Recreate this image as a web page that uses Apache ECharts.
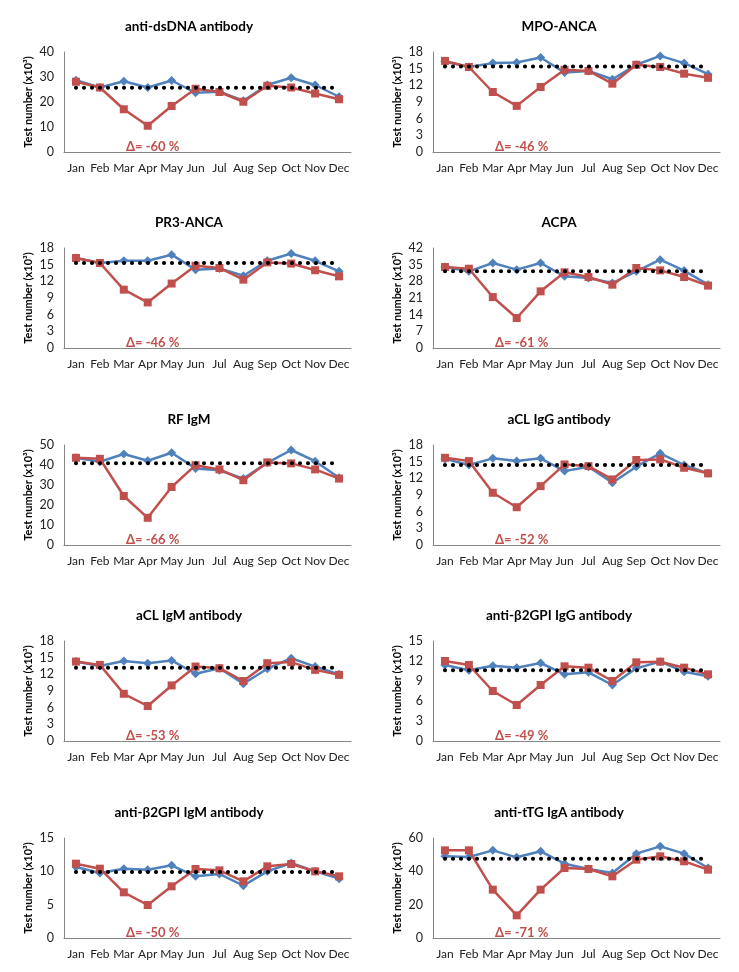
<!DOCTYPE html>
<html>
<head>
<meta charset="utf-8">
<script src="https://cdn.jsdelivr.net/npm/echarts@6/dist/echarts.min.js"></script>
<style>
html,body{margin:0;padding:0;background:#fff;}
#main{width:739px;height:972px;}
</style>
</head>
<body>
<div id="main"></div>
<script>
const months = ['Jan','Feb','Mar','Apr','May','Jun','Jul','Aug','Sep','Oct','Nov','Dec'];

const panelTitles = ['anti-dsDNA antibody','MPO-ANCA','PR3-ANCA','ACPA','RF IgM','aCL IgG antibody','aCL IgM antibody','anti-β2GPI IgG antibody','anti-β2GPI IgM antibody','anti-tTG IgA antibody'];
const deltas = ['-60 %','-46 %','-46 %','-61 %','-66 %','-52 %','-53 %','-49 %','-50 %','-71 %'];
const yMax = [40,18,18,42,50,18,18,15,15,60];
const yStep = [10,3,3,7,10,3,3,3,5,20];
const meanLevel = [25.7,15.4,15.3,32.2,40.9,14.4,13.2,10.6,9.9,47.6];

// blue series (reference year)
const dsdnaBlue = [28.7,25.8,28.3,25.8,28.6,23.7,24.1,20.5,26.8,29.7,26.8,22.1];
const mpoBlue   = [16.3,15.3,16.0,16.1,17.0,14.3,14.6,13.1,15.7,17.3,16.0,14.0];
const pr3Blue   = [16.2,15.3,15.7,15.7,16.8,14.1,14.3,13.0,15.7,17.0,15.7,13.8];
const acpaBlue  = [34.0,32.2,35.7,32.9,35.7,30.1,29.4,27.3,32.2,37.1,32.5,26.6];
const rfBlue    = [43.6,41.6,45.5,42.1,46.1,38.3,37.4,33.2,41.1,47.5,41.9,33.6];
const aclgBlue  = [15.5,14.4,15.6,15.1,15.6,13.3,14.1,11.2,14.1,16.5,14.4,12.9];
const aclmBlue  = [14.3,13.5,14.4,14.0,14.5,12.1,13.1,10.3,13.0,14.9,13.4,12.0];
const b2gBlue   = [11.4,10.6,11.3,11.0,11.7,10.0,10.3,8.4,10.9,11.9,10.4,9.7];
const b2mBlue   = [10.65,9.75,10.4,10.25,10.9,9.25,9.6,7.85,10.0,11.25,10.0,8.9];
const ttgBlue   = [49.0,48.6,52.6,48.4,52.0,44.6,41.4,39.0,50.6,55.0,50.6,42.0];

// red series (pandemic year)
const dsdnaRed = [28.1,25.8,17.1,10.5,18.4,25.3,24.0,20.1,26.5,25.8,23.4,21.1];
const mpoRed   = [16.4,15.3,10.8,8.3,11.7,14.8,14.6,12.3,15.7,15.3,14.1,13.35];
const pr3Red   = [16.2,15.3,10.5,8.2,11.6,14.8,14.4,12.3,15.4,15.2,14.0,12.9];
const acpaRed  = [34.0,33.3,21.4,12.6,23.8,31.8,29.8,26.6,33.6,32.6,29.8,26.2];
const rfRed    = [43.6,43.1,24.5,13.6,29.0,39.9,37.8,32.4,41.3,40.8,37.8,33.2];
const aclgRed  = [15.7,15.1,9.4,6.8,10.6,14.5,14.2,11.8,15.3,15.4,13.9,12.9];
const aclmRed  = [14.3,13.7,8.5,6.3,10.0,13.4,13.1,10.8,14.0,14.2,12.8,11.9];
const b2gRed   = [12.0,11.4,7.5,5.4,8.4,11.2,11.0,9.0,11.8,11.9,11.0,10.0];
const b2mRed   = [11.15,10.4,6.85,4.95,7.75,10.35,10.15,8.5,10.75,11.1,10.0,9.25];
const ttgRed   = [52.6,52.6,29.0,13.6,29.0,42.0,41.4,37.0,47.0,49.0,46.0,41.0];

const blueSets = [dsdnaBlue,mpoBlue,pr3Blue,acpaBlue,rfBlue,aclgBlue,aclmBlue,b2gBlue,b2mBlue,ttgBlue];
const redSets  = [dsdnaRed,mpoRed,pr3Red,acpaRed,rfRed,aclgRed,aclmRed,b2gRed,b2mRed,ttgRed];

const BLUE = '#4F81BD', RED = '#C0504D';
const FONT = 'Lato';
const rowTops = [52,248,445,641,838];
const colLefts = [64,433];
const plotW = 287, plotH = 100;

const grids = [], xAxes = [], yAxes = [], series = [], titles = [];
for (let i = 0; i < 10; i++) {
  const r = Math.floor(i/2), c = i % 2;
  grids.push({left: colLefts[c], top: rowTops[r], width: plotW, height: plotH, containLabel: false});
  titles.push({
    text: panelTitles[i], left: 184 + c*370, top: rowTops[r] - 37, textAlign: 'center',
    textStyle: {fontFamily: FONT, fontSize: 13.5, fontWeight: 'bold', color: '#000'}
  });
  titles.push({
    text: 'Δ= ' + deltas[i], left: colLefts[c] + plotW * 3.5 / 12, top: rowTops[r] + plotH - 17, textAlign: 'center',
    textStyle: {fontFamily: FONT, fontSize: 13, fontWeight: 'bold', color: RED}
  });
  xAxes.push({
    type: 'category', gridIndex: i, data: months, boundaryGap: true,
    axisLine: {lineStyle: {color: '#868686', width: 1}},
    axisTick: {show: false},
    axisLabel: {fontFamily: FONT, fontSize: 12, color: '#222', margin: 10, interval: 0}
  });
  yAxes.push({
    type: 'value', gridIndex: i, min: 0, max: yMax[i], interval: yStep[i],
    name: 'Test number (x10³)', nameLocation: 'middle', nameGap: 30,
    nameTextStyle: {fontFamily: FONT, fontSize: 11, fontWeight: 'bold', color: '#000'},
    axisLine: {show: true, lineStyle: {color: '#868686', width: 1}},
    axisTick: {show: false},
    splitLine: {show: false},
    axisLabel: {fontFamily: FONT, fontSize: 12.5, color: '#222', margin: 10}
  });
  series.push({
    type: 'line', xAxisIndex: i, yAxisIndex: i, data: blueSets[i],
    symbol: 'diamond', symbolSize: 9, showSymbol: true,
    lineStyle: {color: BLUE, width: 2.5}, itemStyle: {color: BLUE}, z: 2, animation: false
  });
  series.push({
    type: 'line', xAxisIndex: i, yAxisIndex: i, data: redSets[i],
    symbol: 'rect', symbolSize: 8,
    lineStyle: {color: RED, width: 2.5}, itemStyle: {color: RED}, z: 3, animation: false
  });
  series.push({
    type: 'line', xAxisIndex: i, yAxisIndex: i, data: months.map(() => meanLevel[i]),
    symbol: 'none', lineStyle: {color: '#000', width: 4, type: [0.1, 7.9], cap: 'round'},
    z: 4, animation: false, silent: true
  });
}

const chart = echarts.init(document.getElementById('main'), null, {renderer: 'canvas'});
chart.setOption({
  backgroundColor: '#fff',
  animation: false,
  title: titles, grid: grids, xAxis: xAxes, yAxis: yAxes, series: series
});
</script>
</body>
</html>
